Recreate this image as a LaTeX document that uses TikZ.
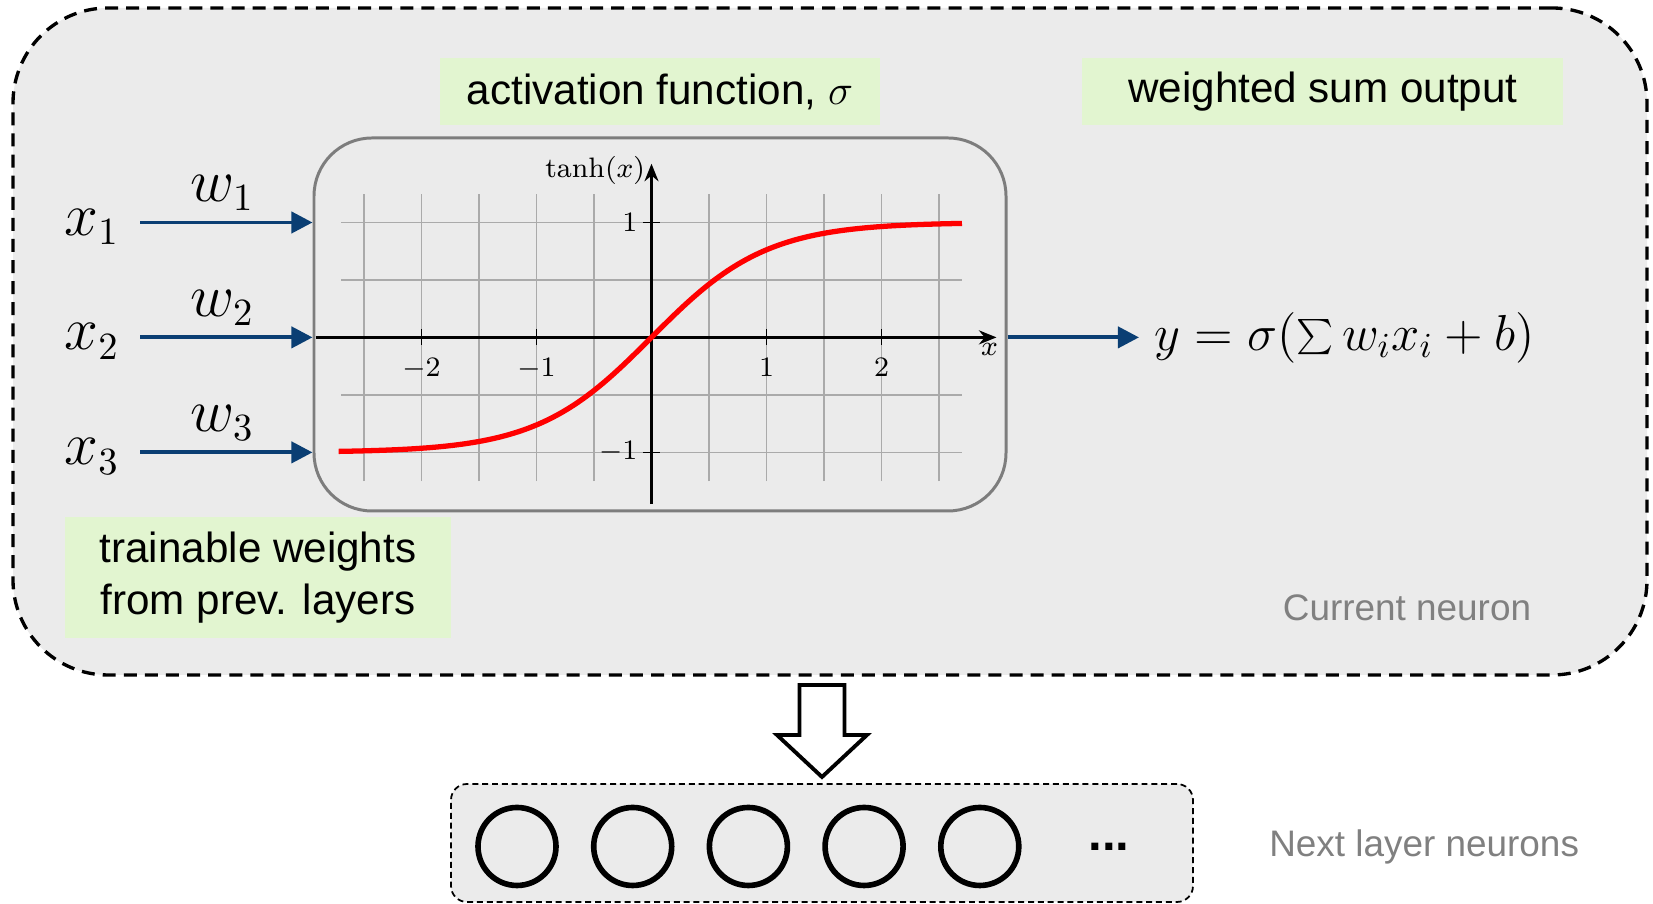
\documentclass[tikz,border=0pt]{standalone}
\usepackage{fontspec}
\setsansfont{Liberation Sans}
\usepackage{tikz}
\usetikzlibrary{positioning,arrows.meta}
\definecolor{neurongray}{RGB}{235,235,235}
\definecolor{labelgreen}{RGB}{226,245,208}
\definecolor{wireblue}{RGB}{10,62,115}
\definecolor{captiongray}{RGB}{128,128,128}
\definecolor{framegray}{RGB}{125,125,125}
\definecolor{gridgray}{RGB}{170,170,170}

\begin{document}
\begin{tikzpicture}[
		shellbox/.style={draw, fill=neurongray, line width=0.95pt, dash pattern=on 3.7pt off 2.3pt, rounded corners=0.95cm},
		tagbox/.style={fill=labelgreen, inner sep=0pt, align=center, font=\sffamily\fontsize{12}{14.6}\selectfont},
		caption/.style={text=captiongray, font=\sffamily\fontsize{10.5}{12.6}\selectfont},
		wire/.style={-{Triangle[length=6pt, width=6pt]}, line width=1.1pt, wireblue},
		sym/.style={inner sep=0pt, font=\fontsize{16}{19}\selectfont},
		gridln/.style={gridgray, line width=0.5pt},
		axis/.style={-{Stealth[length=5pt, width=4pt]}, line width=0.65pt},
		ticklab/.style={font=\footnotesize, inner sep=1.5pt},
		neuron/.style={circle, draw, line width=1.6pt, minimum size=0.78cm, inner sep=0pt}]
	\useasboundingbox (0,0) rectangle (16.53,9.04);
	% current neuron
	\node[shellbox, minimum width=16.34cm, minimum height=6.67cm] (cur) at (8.30,5.625) {};
	\node[tagbox, minimum width=4.40cm, minimum height=0.67cm] (act) at (6.60,8.125) {activation function, $\sigma$};
	\node[tagbox, minimum width=4.81cm, minimum height=0.67cm, right=2.01cm of act] (wso) {weighted sum output};
	\node[tagbox, minimum width=3.86cm, minimum height=1.21cm] (trn) at (2.58,3.265) {trainable weights\\from prev. layers};
	\node[caption] (curcap) at (14.07,2.96) {Current neuron};

	% activation plot
	\node[draw=framegray, line width=0.85pt, rounded corners=0.58cm, minimum width=6.92cm, minimum height=3.73cm] (plt) at (6.60,5.795) {};
	\coordinate (org) at (6.515,5.666);
	\begin{scope}[shift={(org)}, x=1.15cm, y=1.15cm]
		\foreach \gx in {-2.5,-2,...,2.5}
			\draw[gridln] (\gx,-1.25) -- (\gx,1.25);
		\foreach \gy in {-1,-0.5,...,1}
			\draw[gridln] (-2.7,\gy) -- (2.7,\gy);
		\draw[axis] (-2.92,0) -- (3.0,0) node[ticklab, below, xshift=-2pt] (xl) {$x$};
		\draw[axis] (0,-1.45) -- (0,1.51) node[ticklab, left, yshift=-2pt] (yl) {$\tanh(x)$};
		\foreach \t in {-2,-1,1,2}
			\draw[line width=0.5pt] (\t,0.07) -- (\t,-0.07) node[ticklab, below, yshift=-1.8pt] (tx\t) {$\t$};
		\foreach \t in {-1,1}
			\draw[line width=0.5pt] (0.07,\t) -- (-0.07,\t) node[ticklab, left] (ty\t) {$\t$};
		\draw[red, line width=1.5pt] plot[domain=-2.72:2.7, samples=90, smooth] (\x,{tanh(\x)});
	\end{scope}

	% inputs
	\foreach \i/\yy in {1/6.815, 2/5.666, 3/4.516} {
		\coordinate (in\i) at (1.40,\yy);
		\draw[wire] (in\i) -- (in\i -| plt.west) coordinate[midway] (mid\i);
		\node[sym, left=0.2cm of in\i, yshift=-0.04cm] (x\i) {$x_{\i}$};
		\node[sym, above=0.11cm of mid\i, xshift=-0.04cm] (w\i) {$w_{\i}$};
	}

	% output
	\coordinate (out) at (11.39,5.666);
	\draw[wire] (org -| plt.east) -- (out);
	\node[sym, font=\fontsize{14.8}{17}\selectfont, right=0.15cm of out] (yout) {$y=\sigma(\mathop{\textstyle\sum}\nolimits w_i x_i+b)$};

	% next layer
	\coordinate (dn) at (8.22,2.19);
	\draw[fill=white, line width=1.1pt] (dn) ++(-0.225,0) -- ++(0,-0.5) -- ++(-0.225,0) -- ++(0.45,-0.42)
		-- ++(0.45,0.42) -- ++(-0.225,0) -- ++(0,0.5) -- cycle;
	\node[draw, fill=neurongray, line width=0.5pt, dash pattern=on 1.7pt off 1.1pt, rounded corners=0.16cm, minimum width=7.42cm, minimum height=1.18cm] (nxt) at (8.22,0.61) {};
	\foreach \k in {1,...,5}
		\node[neuron] (n\k) at ({5.17+1.157*(\k-1)},0.575) {};
	\node[font=\sffamily\bfseries\fontsize{14}{16}\selectfont] (dots) at (11.09,0.575) {...};
	\node[caption, anchor=west] (nxtcap) at ([xshift=0.63cm]nxt.east |- n1) {Next layer neurons};
\end{tikzpicture}
\end{document}
